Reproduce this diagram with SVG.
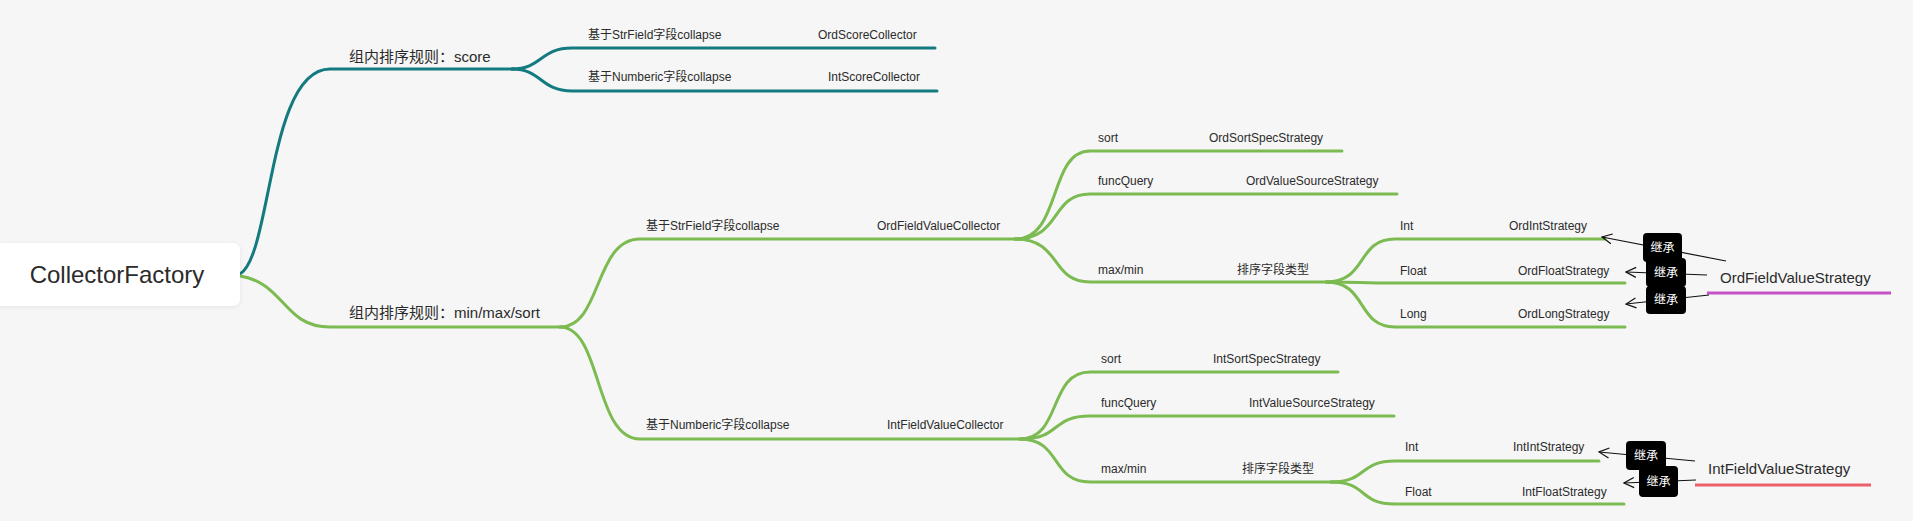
<svg xmlns="http://www.w3.org/2000/svg" width="1913" height="521" viewBox="0 0 1913 521">
<defs>
<style>
.t{font-family:"Liberation Sans","Noto Sans CJK SC",sans-serif;fill:#2b2b2b}
.s12{font-size:12px}
.s15{font-size:15px}
.teal{fill:none;stroke:#137a7f;stroke-width:3;stroke-linecap:round}
.green{fill:none;stroke:#7cba52;stroke-width:3;stroke-linecap:round}
.arr{fill:none;stroke:#111;stroke-width:1.2;marker-end:url(#open)}
.box{fill:#000}
.bt{font-family:"Liberation Sans","Noto Sans CJK SC",sans-serif;font-size:12px;fill:#fff;text-anchor:middle}
</style>
<marker id="open" viewBox="0 0 12 12" refX="11" refY="6" markerWidth="12" markerHeight="12" markerUnits="userSpaceOnUse" orient="auto">
<path d="M1,1 L11,6 L1,11" fill="none" stroke="#111" stroke-width="1.2"/>
</marker>
<filter id="sh" x="-10%" y="-20%" width="120%" height="150%">
<feDropShadow dx="0" dy="1" stdDeviation="2" flood-color="#000" flood-opacity="0.08"/>
</filter>
</defs>
<rect x="0" y="0" width="1913" height="521" fill="#f6f6f6"/>

<g id="connectors">
<path class="teal" d="M240,274 C272,255 268,69 330,69 L514,69"/>
<path class="teal" d="M512,69 C542,69 540,48 572,48 L935,48"/>
<path class="teal" d="M512,69 C542,69 540,91 572,91 L937,91"/>

<path class="green" d="M240,276 C285,283 283,327 330,327 L562,327"/>
<path class="green" d="M560,327 C602,327 594,239 640,239 L1020,239"/>
<path class="green" d="M560,327 C602,327 594,439 640,439 L1025,439"/>

<path class="green" d="M1015,239 C1062,239 1048,151 1090,151 L1342,151"/>
<path class="green" d="M1015,239 C1062,239 1050,194 1090,194 L1397,194"/>
<path class="green" d="M1015,239 C1062,239 1050,282 1090,282 L1333,282"/>

<path class="green" d="M1326,282 C1368,282 1356,239 1395,239 L1605,239"/>
<path class="green" d="M1326,282 C1360,282 1360,283 1395,283 L1625,283"/>
<path class="green" d="M1326,282 C1368,282 1356,327 1395,327 L1625,327"/>

<path class="green" d="M1020,439 C1062,439 1048,372 1090,372 L1338,372"/>
<path class="green" d="M1020,439 C1062,439 1050,416 1090,416 L1394,416"/>
<path class="green" d="M1020,439 C1062,439 1050,482 1090,482 L1338,482"/>

<path class="green" d="M1331,482 C1368,482 1358,461 1395,461 L1599,461"/>
<path class="green" d="M1331,482 C1368,482 1358,504 1395,504 L1624,504"/>

<line x1="1707" y1="293" x2="1891" y2="293" stroke="#c651c6" stroke-width="3"/>
<line x1="1695" y1="485" x2="1871" y2="485" stroke="#ec5f68" stroke-width="3"/>

<line class="arr" x1="1726" y1="261" x2="1602" y2="237"/>
<line class="arr" x1="1707" y1="275" x2="1626" y2="272"/>
<line class="arr" x1="1709" y1="295" x2="1626" y2="304"/>
<line class="arr" x1="1695" y1="461" x2="1599" y2="452"/>
<line class="arr" x1="1696" y1="480" x2="1624" y2="483"/>
</g>

<g id="root">
<rect x="-8" y="243" width="248" height="63" rx="7" fill="#fff" filter="url(#sh)"/>
<text class="t" x="117" y="283" font-size="24" text-anchor="middle">CollectorFactory</text>
</g>

<g id="score"><text class="t s15" x="349" y="62">组内排序规则：score</text></g>
<g id="score-str"><text class="t s12" x="588" y="39">基于StrField字段collapse</text><text class="t s12" x="818" y="39">OrdScoreCollector</text></g>
<g id="score-num"><text class="t s12" x="588" y="81">基于Numberic字段collapse</text><text class="t s12" x="828" y="81">IntScoreCollector</text></g>

<g id="minmax"><text class="t s15" x="349" y="318">组内排序规则：min/max/sort</text></g>

<g id="ord-coll"><text class="t s12" x="646" y="230">基于StrField字段collapse</text><text class="t s12" x="877" y="230">OrdFieldValueCollector</text></g>
<g id="ord-sort"><text class="t s12" x="1098" y="142">sort</text><text class="t s12" x="1209" y="142">OrdSortSpecStrategy</text></g>
<g id="ord-func"><text class="t s12" x="1098" y="185">funcQuery</text><text class="t s12" x="1246" y="185">OrdValueSourceStrategy</text></g>
<g id="ord-mm"><text class="t s12" x="1098" y="274">max/min</text><text class="t s12" x="1237" y="274">排序字段类型</text></g>
<g id="ord-int"><text class="t s12" x="1400" y="230">Int</text><text class="t s12" x="1509" y="230">OrdIntStrategy</text></g>
<g id="ord-float"><text class="t s12" x="1400" y="275">Float</text><text class="t s12" x="1518" y="275">OrdFloatStrategy</text></g>
<g id="ord-long"><text class="t s12" x="1400" y="318">Long</text><text class="t s12" x="1518" y="318">OrdLongStrategy</text></g>

<g id="int-coll"><text class="t s12" x="646" y="429">基于Numberic字段collapse</text><text class="t s12" x="887" y="429">IntFieldValueCollector</text></g>
<g id="int-sort"><text class="t s12" x="1101" y="363">sort</text><text class="t s12" x="1213" y="363">IntSortSpecStrategy</text></g>
<g id="int-func"><text class="t s12" x="1101" y="407">funcQuery</text><text class="t s12" x="1249" y="407">IntValueSourceStrategy</text></g>
<g id="int-mm"><text class="t s12" x="1101" y="473">max/min</text><text class="t s12" x="1242" y="473">排序字段类型</text></g>
<g id="int-int"><text class="t s12" x="1405" y="451">Int</text><text class="t s12" x="1513" y="451">IntIntStrategy</text></g>
<g id="int-float"><text class="t s12" x="1405" y="496">Float</text><text class="t s12" x="1522" y="496">IntFloatStrategy</text></g>

<g id="ord-strategy"><text class="t s15" x="1720" y="283">OrdFieldValueStrategy</text></g>
<g id="int-strategy"><text class="t s15" x="1708" y="474">IntFieldValueStrategy</text></g>

<g id="inherit-1"><rect class="box" x="1643" y="233" width="39" height="29" rx="4"/><text class="bt" x="1662.5" y="252">继承</text></g>
<g id="inherit-2"><rect class="box" x="1646" y="258" width="40" height="29" rx="4"/><text class="bt" x="1666" y="277">继承</text></g>
<g id="inherit-3"><rect class="box" x="1646" y="286" width="40" height="28" rx="4"/><text class="bt" x="1666" y="304">继承</text></g>
<g id="inherit-4"><rect class="box" x="1626" y="441" width="40" height="29" rx="4"/><text class="bt" x="1646" y="460">继承</text></g>
<g id="inherit-5"><rect class="box" x="1639" y="466" width="39" height="31" rx="4"/><text class="bt" x="1658.5" y="486">继承</text></g>
</svg>
